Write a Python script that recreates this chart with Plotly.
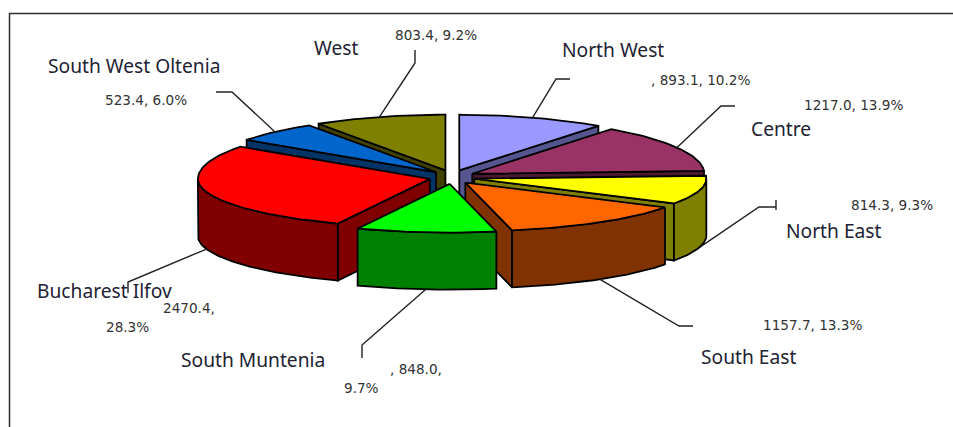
import math
import plotly.graph_objects as go

# ---- data ----
regions = ["North West", "Centre", "North East", "South East",
           "South Muntenia", "Bucharest Ilfov", "South West Oltenia", "West"]
values = [893.1, 1217.0, 814.3, 1157.7, 848.0, 2470.4, 523.4, 803.4]
percents = [10.2, 13.9, 9.3, 13.3, 9.7, 28.3, 6.0, 9.2]
top_colors = ["#9999FF", "#993366", "#FFFF00", "#FF6600",
              "#00FF00", "#FF0000", "#0066CC", "#808000"]
side_colors = ["#55558F", "#4C1933", "#808000", "#803300",
               "#008000", "#800000", "#003366", "#404000"]

# ---- projection of the tilted, exploded pie ----
CX, CY = 452, 177
R = 232
TILT_BACK = 0.24
TILT_FRONT = 0.21
DEPTH = 57
EXPLODE = 23
EXPLODE_TILT = 0.3
DRAW_ORDER = [0, 7, 6, 1, 5, 2, 3, 4]

# leader elbows and ends, per region
leader_tails = [
    [(556, 79), (570, 79)],
    [(721, 106), (735, 106)],
    [(759, 207), (776, 207), (776, 200), (776, 210)],
    [(679, 326), (693, 326)],
    [(362, 345), (362, 358)],
    [(128, 282), (128, 293)],
    [(232, 92), (216, 92)],
    [(415, 63), (415, 50)],
]
name_pos = [(562, 49), (751, 128), (786, 230), (701, 356),
            (181, 359), (37, 290), (48, 65), (314, 47)]
value_labels = [
    [(", 893.1, 10.2%", 651, 80)],
    [("1217.0, 13.9%", 804, 105)],
    [("814.3, 9.3%", 851, 205)],
    [("1157.7, 13.3%", 763, 325)],
    [(", 848.0,", 390, 369), ("9.7%", 344, 388)],
    [("2470.4,", 163, 308), ("28.3%", 106, 327)],
    [("523.4, 6.0%", 105, 100)],
    [("803.4, 9.2%", 395, 35)],
]

total = sum(values)
fig = go.Figure()


def rim(apex, deg):
    t = math.radians(deg)
    c = math.cos(t)
    tilt = TILT_BACK if c > 0 else TILT_FRONT
    return apex[0] + R * math.sin(t), apex[1] - R * tilt * c


def add_poly(pts, fill):
    fig.add_trace(go.Scatter(
        x=[p[0] for p in pts] + [pts[0][0]],
        y=[p[1] for p in pts] + [pts[0][1]],
        mode="lines", fill="toself", fillcolor=fill,
        line=dict(color="#000000", width=1.8),
        hoverinfo="skip", showlegend=False))


def arc(apex, a, b):
    n = max(2, int(abs(b - a)) + 1)
    return [rim(apex, a + (b - a) * i / (n - 1)) for i in range(n)]


def down(pts):
    return [(x, y + DEPTH) for x, y in pts]


spans = []
apexes = []
acc = 0.0
for v in values:
    a = acc / total * 360
    acc += v
    b = acc / total * 360
    spans.append((a, b))
    m = math.radians((a + b) / 2)
    apexes.append((CX + EXPLODE * math.sin(m),
                   CY - EXPLODE * EXPLODE_TILT * math.cos(m)))

for i in DRAW_ORDER:
    a, b = spans[i]
    apex = apexes[i]
    # visible cut walls
    if math.sin(math.radians(a)) < 0:
        edge = [apex, rim(apex, a)]
        add_poly(edge + down(edge)[::-1], side_colors[i])
    if math.sin(math.radians(b)) > 0:
        edge = [apex, rim(apex, b)]
        add_poly(edge + down(edge)[::-1], side_colors[i])
    # outer wall on the front half
    lo, hi = max(a, 90), min(b, 270)
    if lo < hi:
        curve = arc(apex, lo, hi)
        add_poly(curve + down(curve)[::-1], side_colors[i])
    # top face
    add_poly([apex] + arc(apex, a, b), top_colors[i])

# leader lines: start on the slice rim at its mid angle
for i, tail in enumerate(leader_tails):
    a, b = spans[i]
    mid = (a + b) / 2
    sx, sy = rim(apexes[i], mid)
    if math.cos(math.radians(mid)) < 0:
        sy += DEPTH
    pts = [(sx, sy)] + tail
    fig.add_trace(go.Scatter(
        x=[p[0] for p in pts], y=[p[1] for p in pts], mode="lines",
        line=dict(color="#222222", width=1.4),
        hoverinfo="skip", showlegend=False))

annotations = []
for name, (x, y) in zip(regions, name_pos):
    annotations.append(dict(
        x=x, y=y, text=name, showarrow=False, xanchor="left", yanchor="middle",
        xref="x", yref="y", xshift=-2,
        font=dict(family="Noto Sans", size=19.2, color="#222233")))
for group in value_labels:
    for text, x, y in group:
        annotations.append(dict(
            x=x, y=y, text=text, showarrow=False, xanchor="left", yanchor="middle",
            xref="x", yref="y", xshift=-2,
            font=dict(family="DejaVu Sans", size=13.6, color="#333333")))

frame = [
    dict(type="line", xref="x", yref="y", x0=9, y0=13.5, x1=953, y1=13.5,
         line=dict(color="#303030", width=1.5)),
    dict(type="line", xref="x", yref="y", x0=9.5, y0=13, x1=9.5, y1=427,
         line=dict(color="#303030", width=1.5)),
]

fig.update_layout(
    width=953, height=427,
    margin=dict(l=0, r=0, t=0, b=0),
    paper_bgcolor="white", plot_bgcolor="white",
    xaxis=dict(range=[0, 953], visible=False, fixedrange=True),
    yaxis=dict(range=[427, 0], visible=False, fixedrange=True),
    shapes=frame, annotations=annotations, showlegend=False)

fig.write_html("out.html", config={"displayModeBar": False},
               post_script="document.body.style.margin='0';document.body.style.overflow='hidden';")
